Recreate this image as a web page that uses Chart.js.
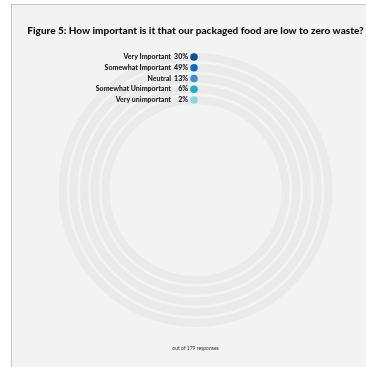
<!DOCTYPE html>
<html>
<head>
<meta charset="utf-8">
<script src="https://cdn.jsdelivr.net/npm/chart.js@4"></script>
<style>
  html, body { margin: 0; padding: 0; background: #fff; }
  #frame {
    position: absolute; left: 11px; top: 4px; width: 380px; height: 400px;
    background: #f3f3f3; border: 1px solid #c6c6c6;
  }
  #wrap { position: absolute; left: 0; top: 0; width: 366px; height: 367px; }
</style>
</head>
<body>
<div id="frame"></div>
<div id="wrap"><canvas id="zeroWaste"></canvas></div>
<script>
const categories = ['Very Important', 'Somewhat Important', 'Neutral', 'Somewhat Unimportant', 'Very unimportant'];
const shares = [30, 49, 13, 6, 2];
const dotColors = ['#0d5295', '#0b6cc0', '#3a8ed1', '#14b2cc', '#8bd7e2'];
const responses = 179;

const TRACK = '#eaeaea';
const FONT = 'Lato, "Open Sans", sans-serif';

// one grey track per answer, with thin empty rings in between
const datasets = [];
categories.forEach((cat, i) => {
  if (i > 0) {
    datasets.push({ data: [100], backgroundColor: 'rgba(0,0,0,0)', borderWidth: 0, weight: 0.34, spacer: true });
  }
  datasets.push({ label: cat, data: [100], backgroundColor: TRACK, borderWidth: 0, weight: 1, idx: i });
});

// labels + dots at the top of each ring
const ringLabels = {
  id: 'ringLabels',
  afterDatasetsDraw(chart) {
    const ctx = chart.ctx;
    ctx.save();
    chart.data.datasets.forEach((ds, di) => {
      if (ds.spacer) return;
      const arc = chart.getDatasetMeta(di).data[0];
      const r = (arc.innerRadius + arc.outerRadius) / 2;
      const cx = arc.x - 1.5;
      const cy = arc.y - r;
      ctx.beginPath();
      ctx.arc(cx, cy, 3.8, 0, Math.PI * 2);
      ctx.fillStyle = dotColors[ds.idx];
      ctx.fill();
      ctx.fillStyle = '#1a1a1a';
      ctx.font = '900 7px ' + FONT;
      ctx.textAlign = 'right';
      ctx.textBaseline = 'middle';
      ctx.fillText(shares[ds.idx] + '%', cx - 6, cy);
      ctx.fillText(ds.label, cx - 23, cy);
    });
    ctx.restore();
  }
};

new Chart(document.getElementById('zeroWaste'), {
  type: 'doughnut',
  data: { labels: ['scale'], datasets },
  options: {
    responsive: true,
    maintainAspectRatio: false,
    animation: false,
    radius: 137,
    cutout: '62.8%',
    layout: { padding: { left: 25, right: 0, top: 0, bottom: 0 } },
    plugins: {
      legend: { display: false },
      tooltip: { enabled: false },
      title: {
        display: true,
        text: 'Figure 5: How important is it that our packaged food are low to zero waste?',
        color: '#111',
        font: { family: FONT, size: 10, weight: '900', lineHeight: 1.2 },
        padding: { top: 25, bottom: 10 }
      },
      subtitle: {
        display: true,
        position: 'bottom',
        text: 'out of ' + responses + ' responses',
        color: '#333',
        font: { family: FONT, size: 5, lineHeight: 1.2 },
        padding: { top: 12, bottom: 16 }
      }
    }
  },
  plugins: [ringLabels]
});
</script>
</body>
</html>
